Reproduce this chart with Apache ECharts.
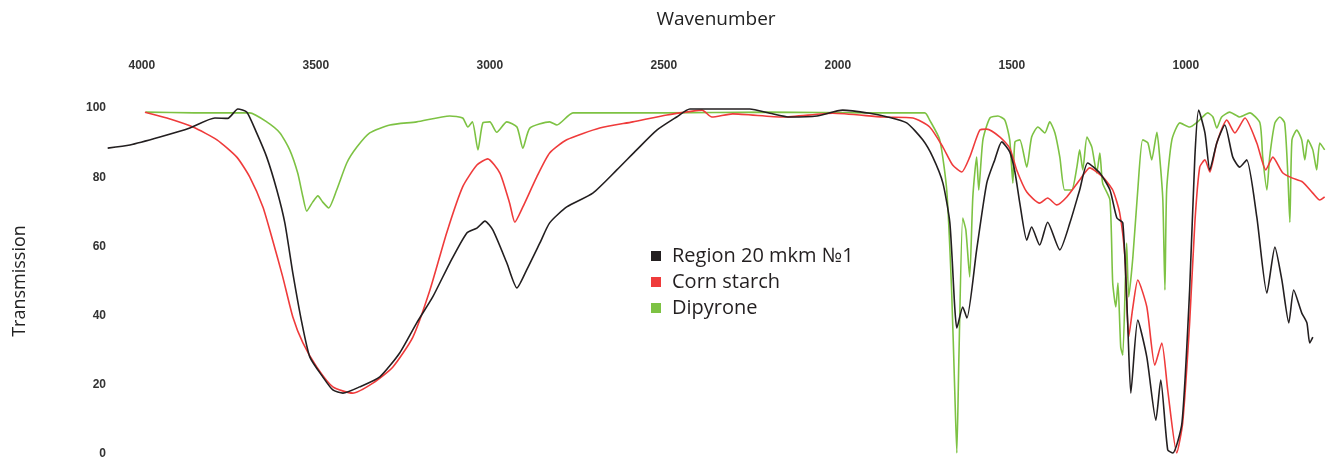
<!DOCTYPE html>
<html><head><meta charset="utf-8">
<script src="https://cdn.jsdelivr.net/npm/echarts@6/dist/echarts.min.js"></script>
<style>html,body{margin:0;padding:0;background:#fff}#c{width:1330px;height:463px}</style>
</head><body><div id="c"></div>
<script>
const xTicks = [4000, 3500, 3000, 2500, 2000, 1500, 1000];
const yTicks = [0, 20, 40, 60, 80, 100];
const seriesNames = ['Region 20 mkm №1', 'Corn starch', 'Dipyrone'];

const regionWn = [4098,4034,3948,3862,3790,3753,3724,3698,3670,3641,3612,3589,3566,3540,3517,3480,3451,3422,3374,3316,3259,3210,3164,3115,3066,3037,3014,2991,2951,2922,2894,2856,2828,2779,2704,2635,2578,2520,2463,2425,2253,2195,2138,2060,1986,1908,1860,1802,1756,1727,1698,1678,1664,1658,1641,1629,1601,1572,1549,1529,1506,1491,1477,1457,1443,1420,1397,1362,1333,1305,1282,1247,1218,1198,1181,1167,1158,1138,1112,1086,1072,1052,1037,1011,989,974,963,945,931,911,888,865,845,825,796,767,744,724,704,690,667,652,644,635];
const regionT = [88.4,89.3,91.6,94.2,97.1,97.0,99.7,98.8,92.8,85.8,76.3,66.8,52.3,37.9,28,22.3,18.5,17.6,19.4,22.3,29.2,37.9,45.4,55.2,63.9,65.3,67.3,64.7,55.2,48,53.2,61,66.8,71.4,75.4,82.1,87.9,93.6,97.4,99.7,99.7,98.5,97.4,97.7,99.4,98.5,97.5,95.7,90.8,85.8,78.3,66.8,42.5,36.4,42.5,39.3,59,78.3,85,90.2,87.3,81.5,72.5,61.8,65.6,60.4,67,59,66.8,76.3,84.1,81.2,76.3,68.2,66.8,37.9,17.6,38.7,28,9.8,21.4,1.2,0.3,9,47.4,85.8,99.4,92.8,82.1,89.9,95.1,85.8,82.9,85,68.5,46.5,59.8,50.3,37.9,47.4,40.8,37.9,32.1,33.8];

const starchWn = [3991,3928,3853,3784,3727,3690,3652,3624,3595,3566,3537,3497,3451,3394,3336,3279,3221,3172,3124,3078,3037,3006,2971,2943,2928,2905,2865,2828,2779,2684,2589,2491,2417,2390,2362,2302,2158,2014,1871,1784,1736,1698,1670,1644,1621,1592,1572,1534,1506,1486,1457,1420,1397,1371,1342,1305,1276,1239,1210,1190,1175,1164,1152,1138,1112,1089,1069,1052,1026,1009,989,974,960,945,931,911,882,859,830,796,770,750,721,695,664,635,615,601];
const starchT = [98.8,97.1,94.5,90.8,85.8,80.1,71.4,61.8,51.2,39.6,32.1,25.1,19.4,17.6,20.5,25.1,33.8,47.4,63.9,77.2,83.5,85.3,81.2,72.5,67,71.4,80.1,87,90.8,94.2,96,98,99.1,99.4,97.4,98.3,97.4,98.5,97.4,97.1,94.5,88.7,83.5,81.5,85.8,93.6,93.9,91.6,88.4,82.1,75.7,72.5,74,72,74.3,79.2,82.7,80.1,76.3,69.7,57,33.8,42.5,50.3,42.5,25.7,32.1,18.5,0.3,9,37.9,66.8,82.9,85,81.5,89.9,96.5,92.8,97.1,89.9,82.1,85.8,81.2,79.8,78.6,75.4,73.4,74.3];

const dipyWn = [3989,3850,3730,3690,3641,3603,3575,3552,3537,3526,3509,3494,3480,3463,3440,3411,3382,3345,3287,3210,3115,3078,3063,3050,3034,3020,3000,2980,2951,2922,2905,2885,2828,2807,2761,2500,2200,1900,1750,1736,1707,1687,1673,1664,1658,1652,1641,1632,1621,1612,1601,1595,1583,1563,1540,1520,1506,1497,1491,1477,1457,1443,1425,1405,1391,1376,1362,1348,1328,1313,1305,1296,1284,1270,1256,1247,1239,1218,1210,1201,1195,1187,1181,1170,1164,1152,1138,1124,1109,1098,1083,1075,1066,1060,1055,1040,1017,989,966,937,922,911,897,874,845,816,787,779,767,759,744,730,716,707,701,695,681,667,658,649,635,624,615,601];
const dipyT = [98.8,98.6,98.6,98.6,96,92.8,87.9,81.2,74.3,70.2,72.8,74.6,72.8,71.1,76.3,84.1,88.7,92.8,95.1,96,97.7,97.1,94.5,96,87.9,95.7,96,93,96,94.5,88.4,94.2,96,95.1,98.6,98.6,98.8,98.6,98.6,96.5,90.8,76.3,47.4,18.5,0.3,28,68.2,64.7,51.2,74.3,85.8,76.3,90.8,97.1,97.7,96.5,90.8,78.3,90.2,90.8,82.9,91.6,94.5,92.8,96,92.8,85.8,76.3,76.3,82.9,87.9,82.1,91.6,88.7,81.2,87,78.3,73.4,49.4,42.5,49.4,30.9,28.6,61,45.4,57,76.3,90.8,89.9,85,93,85.8,73.4,47.4,76.3,90.8,95.7,94.5,96,98.6,97.4,94.2,97.4,98.8,97.4,98.6,95.7,85.8,76.3,85.8,95.7,97.4,95.7,81.2,67,90.8,93.6,90.8,85,90.8,87.9,82.1,89.9,87.9];

const colors = ['#231f20', '#ef3b3b', '#7dc243'];
function pairs(xs, ys){ return xs.map((x,i)=>[x, ys[i]]); }

const chart = echarts.init(document.getElementById('c'), null, {renderer:'canvas'});
const labelStyle = {color:'#333', fontWeight:'bold', fontSize:12, fontFamily:'Liberation Sans, Arial, sans-serif'};
chart.setOption({
  animation:false,
  backgroundColor:'#fff',
  color: colors,
  grid:{left:107, right:5, top:108, bottom:9, containLabel:false},
  legend:{
    orient:'vertical', left:646, top:241, itemGap:6, itemWidth:10, itemHeight:10,
    icon:'rect', data: seriesNames,
    textStyle:{color:'#231f20', fontSize:20, fontFamily:'Open Sans, sans-serif', padding:[0,0,0,6]}
  },
  xAxis:{
    type:'value', position:'top', inverse:true, min:600, max:4100,
    name:'Wavenumber', nameLocation:'middle', nameGap:79,
    nameTextStyle:{color:'#222', fontSize:19, fontFamily:'Open Sans, sans-serif'},
    axisLine:{show:false, onZero:false}, axisTick:{show:false}, splitLine:{show:false},
    axisLabel:Object.assign({margin:36, customValues: xTicks, formatter: v => String(v)}, labelStyle)
  },
  yAxis:{
    type:'value', min:0, max:100, interval:20, position:'left',
    name:'Transmission', nameLocation:'middle', nameGap:78, nameRotate:90,
    nameTextStyle:{color:'#222', fontSize:18, fontFamily:'Open Sans, sans-serif'},
    axisLine:{show:false, onZero:false}, axisTick:{show:false}, splitLine:{show:false},
    axisLabel:Object.assign({margin:1, align:'right', customValues: yTicks}, labelStyle)
  },
  series:[
    {name:seriesNames[0], type:'line', data:pairs(regionWn, regionT), showSymbol:false, smooth:0.2, lineStyle:{width:1.6, color:colors[0]}, z:3},
    {name:seriesNames[1], type:'line', data:pairs(starchWn, starchT), showSymbol:false, smooth:0.2, lineStyle:{width:1.6, color:colors[1]}, z:2},
    {name:seriesNames[2], type:'line', data:pairs(dipyWn, dipyT), showSymbol:false, smooth:0.2, lineStyle:{width:1.6, color:colors[2]}, z:1}
  ]
});
</script></body></html>
